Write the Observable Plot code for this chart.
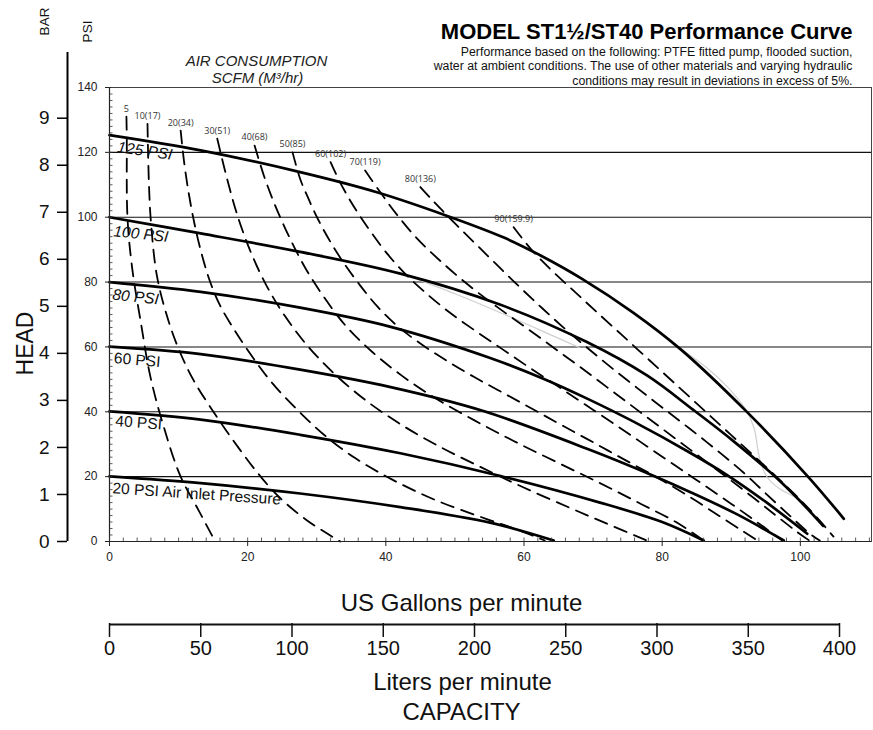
<!DOCTYPE html>
<html>
<head>
<meta charset="utf-8">
<script src="https://cdn.jsdelivr.net/npm/d3@7"></script>
<script src="https://cdn.jsdelivr.net/npm/@observablehq/plot@0.6"></script>
<style>
  html, body { margin: 0; padding: 0; background: #fff; }
  #chart { width: 873px; height: 730px; }
</style>
</head>
<body>
<div id="chart"></div>
<script>
// ---------------- DATA ----------------
const PSI_PER_BAR = 14.5038;
const LPM_PER_GPM = 3.78541;

// Pump performance curves: [US gpm, head psi]
const pumpPressures = [125, 100, 80, 60, 40, 20];
const pumpLabels = ["125 PSI", "100 PSI", "80 PSI", "60 PSI", "40 PSI", "20 PSI Air Inlet Pressure"];
const pump125 = [[0,125.3],[13.2,120.6],[27.6,113.9],[38.7,107.7],[48.9,100.4],[57,93.8],[62.4,88.2],[68.4,81],[75.8,70.6],[82.6,59.4],[92.3,39.9],[101.2,19.8],[106.3,7]];
const pump100 = [[0,100],[13.2,95],[27.6,89.3],[42.1,82.6],[56.6,73],[69.1,61.5],[77.8,51.2],[84.5,40.6],[90,31.5],[96.1,20.5],[100,12.4],[103.3,4.8]];
const pump80  = [[0,80],[13.2,77],[27.6,72.1],[40.7,66.2],[55.1,56.6],[62.8,50.2],[69.6,43.6],[76,36.8],[84.1,27.3],[89.4,20.5],[95,12.2],[101,2.4]];
const pump60  = [[0,60.1],[13.2,57.8],[27.6,53],[40.7,47.6],[54,40.3],[69.6,28.2],[78.8,20.2],[84.1,15.2],[91,8.2],[97.6,0.3]];
const pump40  = [[0,40.1],[13.2,37.6],[27.6,32.9],[42.1,27.2],[56.6,20.2],[71,12],[80,6],[86,0.3]];
const pump20  = [[0,20.1],[13.2,18],[27.6,14.8],[42.1,10.6],[55.1,5.8],[64.3,0.3]];

// Air consumption curves, SCFM (M3/hr): [US gpm, head psi]
const airLabels = ["5", "10(17)", "20(34)", "30(51)", "40(68)", "50(85)", "60(102)", "70(119)", "80(136)", "90(159.9)"];
const air5  = [[2.45,131],[2.5,125],[2.6,100],[3.3,84],[4.5,68],[5.9,51],[7.9,35],[10.3,20],[12.8,10],[15.3,0]];
const air10 = [[5.5,128.8],[5.7,110.8],[6.0,98.5],[6.9,81.5],[8.6,67.6],[10.3,57.9],[12.2,49.6],[14.6,41.4],[17.8,31.5],[21.2,21.8],[24.5,13.8],[28.6,6.5],[33.4,0]];
const air20 = [[10.3,126.7],[10.8,117],[11.5,107],[12.3,98],[13.3,89],[14.5,80.5],[16,72.8],[18,65.5],[20.5,57.5],[23.5,49],[27,41],[31,33],[35.5,25.8],[41,19],[47.5,12.5],[54.5,7],[59.5,3.3],[63,0.3]];
const air30 = [[15.6,124.2],[17,112],[18.6,100],[20.5,89],[22.7,79],[25.4,69.5],[28.6,60.5],[32.4,52],[36.8,44],[41.8,36.6],[47.3,29.8],[53.3,23.4],[59.8,16.8],[66.5,10.5],[72,5.5],[77.8,0.3]];
const air40 = [[21,122.1],[22.4,112.5],[24,103.5],[26,94],[28.3,84.5],[31,75.5],[34.2,66.5],[38,58.5],[42.4,51],[47.3,44],[52.7,37.5],[58.5,31],[64.7,24.5],[71,18],[77,11.5],[82,6],[86,0.3]];
const air50 = [[26.5,120],[27.6,111.8],[28.8,105.7],[30.2,99.3],[32,92.3],[34,85.6],[36.3,78.9],[38.8,72.4],[41.8,66.2],[45.3,60.6],[49,55.5],[52.8,50.7],[57,45.8],[61.3,40.8],[65.6,35.7],[70,30.6],[74.4,25.4],[78.8,20.3],[83.2,14.8],[87.6,8.8],[91.5,3.4],[93.8,0.3]];
const air60 = [[32,117],[33.2,111.5],[34.6,106],[36.2,100.5],[38,95],[40.1,89],[42.6,83],[45.6,77],[49,71],[52.8,65.2],[56.8,59.4],[60.8,53.6],[64.8,48],[68.8,42.3],[72.8,36.6],[76.8,30.8],[80.8,25],[84.8,19.2],[88.8,13.4],[92.8,7.4],[97.4,0.3]];
const air70 = [[37,114.4],[39.2,107.7],[41.6,100.8],[44.5,93.5],[48,86.3],[52,79],[56,72.5],[60,66.4],[64,60.2],[68,54],[72,47.6],[76,41.2],[80,34.8],[84,28.4],[88,22],[92,15.5],[96,8.8],[99.5,3],[101.3,0.3]];
const air80 = [[45,109.3],[46.5,105.8],[48.2,102],[50.8,96.4],[53.7,90.3],[56.6,84.2],[59.6,78],[62.6,72],[65.6,66.2],[69,60],[72.6,53.7],[76.4,47.3],[80.2,41],[84.1,34.6],[88,28],[91.8,21.2],[95.4,14],[98.7,7.5],[101.5,2.2],[102.8,0.3]];
const air90 = [[58.5,96.9],[61.2,89.7],[64.3,83],[67.4,76.9],[70.3,71.2],[74,64],[78,56.2],[82,48.4],[86,40.6],[90,32.8],[94,25],[98,17],[101.5,9.5],[104.8,1.5]];

// faint grey trace lines
const grayA = [[44,81.3],[50,76.4],[56,71.1],[62,65.5],[68,59.8]];
const grayB = [[83,59],[86.5,53.5],[89.5,47.5],[92,41],[93.3,35],[93.8,29],[94.3,24],[95.3,19.5],[97,16.3],[99.5,13.5]];

// axes
const psiTicks = [0, 20, 40, 60, 80, 100, 120, 140];
const psiGrid = [20, 40, 60, 80, 100, 120];
const gpmTicks = [0, 20, 40, 60, 80, 100];
const barTicks = [0, 1, 2, 3, 4, 5, 6, 7, 8, 9];
const lpmTicks = [0, 50, 100, 150, 200, 250, 300, 350, 400];

const titleText = "MODEL ST1\u00BD/ST40 Performance Curve";
const subtitleLines = [
  "Performance based on the following: PTFE fitted pump, flooded suction,",
  "water at ambient conditions. The use of other materials and varying hydraulic",
  "conditions may result in deviations in excess of 5%."
];

// ---------------- LAYOUT ----------------
const W = 873, H = 730;
const mL = 109, mR = 2, mT = 87, mB = 189;
const xMax = 110.3, yMax = 140;
const sx = (W - mL - mR) / xMax;
const sy = (H - mT - mB) / yMax;
// page-pixel position -> scale value (for decorations outside the frame)
const X = px => (px - mL) / sx;
const Y = py => (H - mB - py) / sy;

const pumpSeries = [pump125, pump100, pump80, pump60, pump40, pump20];
const airSeries = [air5, air10, air20, air30, air40, air50, air60, air70, air80, air90];
const pumpRows = pumpSeries.flatMap((pts, i) => pts.map(([q, h]) => ({q, h, psi: pumpPressures[i]})));
const airRows = airSeries.flatMap((pts, i) => pts.map(([q, h]) => ({q, h, scfm: airLabels[i]})));
const grayRows = [grayA, grayB].flatMap((pts, i) => pts.map(([q, h]) => ({q, h, k: i})));
const airLabelRows = airSeries.map((pts, i) => ({q: pts[0][0], h: pts[0][1], label: airLabels[i]}));

const labelDx = [8, 4, 3, 4.5, 6, 3];
const labelDy = [12, 14, 12.5, 11.5, 9.5, 12];
const labelRot = [8, 6, 6, 5, 4.5, 3.8];
const labelItalic = [true, true, true, false, false, false];

const sans = "'Liberation Sans', Arial, Helvetica, sans-serif";

const pumpLabelMarks = pumpLabels.map((lab, i) =>
  Plot.text([{q: 0, h: pumpSeries[i][0][1], lab}], {
    x: "q", y: "h", text: "lab", textAnchor: "start",
    dx: labelDx[i], dy: labelDy[i], rotate: labelRot[i],
    fontSize: 15.5, fontStyle: labelItalic[i] ? "italic" : "normal", fill: "#111"
  })
);

const chart = Plot.plot({
  width: W, height: H,
  marginLeft: mL, marginRight: mR, marginTop: mT, marginBottom: mB,
  x: {domain: [0, xMax], axis: null},
  y: {domain: [0, yMax], axis: null},
  style: {fontFamily: sans, background: "#fff", overflow: "visible"},
  marks: [
    // grid and frame
    Plot.ruleY(psiGrid, {stroke: "#111", strokeWidth: 1.1}),
    Plot.frame({stroke: "#444", strokeWidth: 1}),
    // faint traces
    Plot.line(grayRows, {x: "q", y: "h", z: "k", stroke: "#cfcfcf", strokeWidth: 1.2, curve: "catmull-rom"}),
    // air consumption (dashed)
    Plot.line(airRows, {x: "q", y: "h", z: "scfm", stroke: "#000", strokeWidth: 1.8, strokeDasharray: "13,8", curve: "catmull-rom"}),
    // pump curves
    Plot.line(pumpRows, {x: "q", y: "h", z: "psi", stroke: "#000", strokeWidth: 2.7, curve: "catmull-rom"}),
    // air labels
    Plot.text(airLabelRows, {x: "q", y: "h", text: "label", dy: -8, fontSize: 9, fill: "#333", fontFamily: "'Open Sans', 'Noto Sans', sans-serif"}),
    ...pumpLabelMarks,

    // PSI axis (left)
    Plot.ruleX([0], {y1: 0, y2: yMax, stroke: "#222", strokeWidth: 1.2}),
    Plot.ruleY(psiTicks, {x1: X(105), x2: 0, stroke: "#222", strokeWidth: 1}),
    Plot.ruleY(d3.range(0, yMax + 0.1, 2), {x1: 0, x2: 3.5 / sx, stroke: "#333", strokeWidth: 0.8}),
    Plot.text(psiTicks, {x: X(97), y: d => d, text: d => String(d), textAnchor: "end", fontSize: 12, fill: "#222"}),

    // GPM axis (bottom)
    Plot.ruleY([0], {x1: 0, x2: xMax, stroke: "#222", strokeWidth: 1.2}),
    Plot.ruleX(gpmTicks, {y1: Y(546), y2: 0, stroke: "#222", strokeWidth: 1}),
    Plot.ruleX(d3.range(0, xMax, 2), {y1: 0, y2: 3.5 / sy, stroke: "#333", strokeWidth: 0.8}),
    Plot.text(gpmTicks, {x: d => d, y: Y(557), text: d => String(d), fontSize: 12, fill: "#222"}),

    // BAR axis
    Plot.ruleX([X(67)], {y1: 0, y2: Y(52), stroke: "#000", strokeWidth: 2}),
    Plot.ruleY(barTicks, {y: d => d * PSI_PER_BAR, x1: X(57), x2: X(67), stroke: "#000", strokeWidth: 1.5}),
    Plot.text(barTicks, {y: d => d * PSI_PER_BAR, x: X(49), text: d => String(d), textAnchor: "end", fontSize: 19, fill: "#111"}),

    // axis titles
    Plot.text(["BAR"], {x: X(44), y: Y(21), text: d => d, rotate: -90, fontSize: 13.5, fill: "#111"}),
    Plot.text(["PSI"], {x: X(87), y: Y(31), text: d => d, rotate: -90, fontSize: 13.5, fill: "#111"}),
    Plot.text(["HEAD"], {x: X(25), y: Y(343), text: d => d, rotate: -90, fontSize: 23, fill: "#111"}),
    Plot.text(["AIR CONSUMPTION"], {x: X(256), y: Y(61), text: d => d, fontSize: 15, fontStyle: "italic", fill: "#222"}),
    Plot.text(["SCFM (M\u00B3/hr)"], {x: X(257), y: Y(78), text: d => d, fontSize: 15, fontStyle: "italic", fill: "#222"}),

    // title block
    Plot.text([titleText], {x: X(852), y: Y(31.5), text: d => d, textAnchor: "end", fontSize: 22, fontWeight: "bold", fill: "#000"}),
    Plot.text(subtitleLines, {x: X(852), y: (d, i) => Y(51.5 + i * 14.5), text: d => d, textAnchor: "end", fontSize: 12.3, fill: "#111"}),

    // capacity labels
    Plot.text(["US Gallons per minute"], {x: X(461), y: Y(603), text: d => d, fontSize: 24, fill: "#111"}),
    // LPM axis
    Plot.ruleY([Y(624)], {x1: 0, x2: lpmTicks[lpmTicks.length - 1] / LPM_PER_GPM, stroke: "#111", strokeWidth: 2}),
    Plot.ruleX(lpmTicks, {x: d => d / LPM_PER_GPM, y1: Y(623), y2: Y(637), stroke: "#111", strokeWidth: 1.5}),
    Plot.text(lpmTicks, {x: d => d / LPM_PER_GPM, y: Y(648), text: d => String(d), fontSize: 20, fill: "#111"}),
    Plot.text(["Liters per minute"], {x: X(462), y: Y(681.5), text: d => d, fontSize: 24, fill: "#111"}),
    Plot.text(["CAPACITY"], {x: X(461), y: Y(712), text: d => d, fontSize: 24, fill: "#111"})
  ]
});

document.getElementById("chart").appendChild(chart);
</script>
</body>
</html>
